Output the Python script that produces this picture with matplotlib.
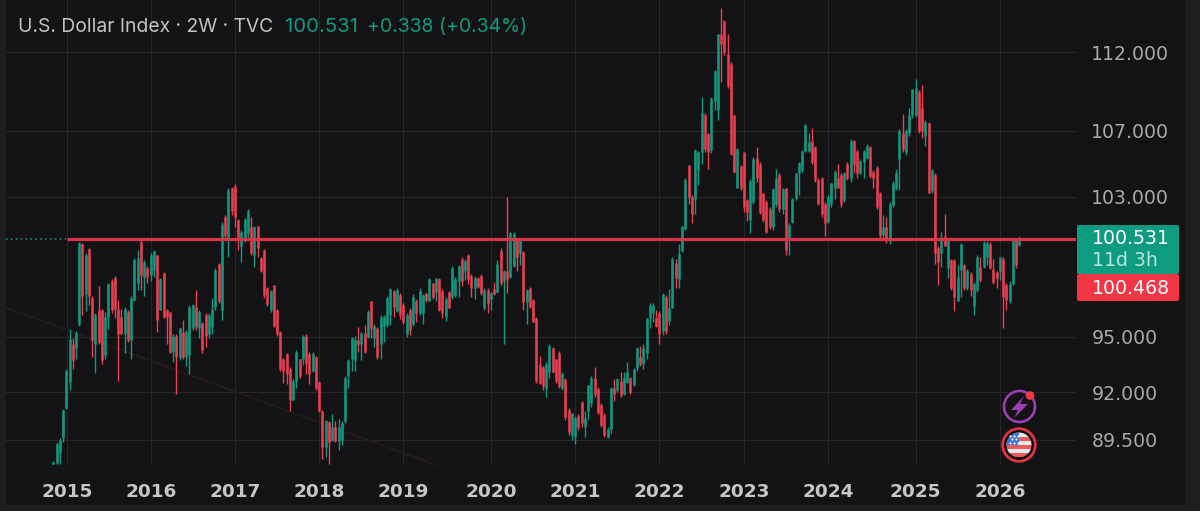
import numpy as np
import matplotlib
matplotlib.use('Agg')
import matplotlib.pyplot as plt
from matplotlib.patches import Circle, FancyBboxPatch, Polygon, Rectangle

plt.rcParams['font.family'] = ['Inter', 'DejaVu Sans']

# two week candles
opens = [
    88.25,88.3,88.8,89.6,91.15,92.55,94.6,94.35,95.7,100.25,
    97.35,99.95,97.15,94.6,96.45,96.45,94.0,96.1,98.1,98.3,
    96.55,96.1,95.15,96.35,94.8,97.05,98.0,100.35,98.35,98.85,
    98.45,98.75,99.6,96.45,98.55,96.45,96.35,94.15,95.05,93.9,
    95.25,93.9,94.0,95.45,96.65,95.45,95.75,96.2,95.15,95.55,
    96.65,99.05,96.45,101.8,100.65,103.5,103.65,101.6,100.1,100.55,
    100.85,101.2,99.6,101.25,99.4,99.9,97.7,96.45,97.85,96.45,
    95.25,93.8,94.05,93.25,91.6,92.6,93.75,93.75,95.05,94.05,
    93.15,93.9,92.55,91.0,89.1,90.4,89.45,90.15,89.45,89.5,
    90.45,92.85,93.8,93.7,94.8,94.6,95.2,95.0,96.95,94.95,
    95.45,94.6,95.6,95.65,96.2,97.55,96.4,
    97.3,96.75,95.15,96.5,95.7,97.0,96.3,96.3,97.4,97.0,
    98.0,97.5,98.2,97.55,96.1,97.5,97.2,97.3,98.1,99.35,
    98.7,99.6,98.4,97.7,98.3,98.4,96.6,97.6,97.1,97.65,
    97.5,99.85,98.1,98.65,98.35,98.95,100.45,99.7,99.75,96.9,
    97.7,97.05,96.05,93.45,93.35,92.2,93.05,94.4,93.75,94.1,
    92.2,92.7,91.05,89.75,89.65,90.75,91.45,90.15,91.0,91.4,
    92.75,92.15,91.3,90.8,89.65,90.05,92.2,92.1,92.6,91.9,
    92.55,92.75,92.4,93.3,93.9,93.5,94.1,96.0,96.3,96.05,
    96.3,95.3,97.2,95.85,96.6,99.15,98.2,99.85,
    101.1,104.9,103,102.9,104.6,105.7,108,106.8,105.8,108.9,
    108.3,113.15,114,111.9,111.25,108,103.55,104.85,105.7,102.8,
    101.6,102.7,105.35,105,103.2,102.7,102.3,101.2,102.6,104.3,
    102.3,103.5,100.45,101.5,102.95,104.45,104.6,105.75,105.75,106.35,
    106,104,104.1,102.6,101.5,102.6,103.5,104.1,104.3,102.8,
    105,104.1,106.4,105.75,104.4,105.1,105.35,106,104.5,104.75,
    103.2,100.75,101.2,100.4,102.5,103.5,105.25,106.9,105.7,106.9,
    108,108,109.45,108.4,106.7,107.5,103.35,104.3,100,99.7,
    100.7,98.85,99.3,99.3,97,98.75,99,97.7,98.5,96.7,
    97.6,98.9,98.9,99.5,100.25,98.8,98.6,98.7,99.35,97.85,
    97,97.95,100.5,100.19,
]
highs = [
    88.4,89.4,89.6,91.1,93.25,95.4,94.9,95.3,100.35,100.3,
    99.7,100.0,97.25,96.3,97.8,96.55,96.35,98.0,98.2,98.4,
    97.05,96.55,96.65,96.45,97.25,99.4,99.9,100.45,99.3,98.95,
    99.7,99.9,99.6,98.3,98.6,96.55,96.35,95.15,95.15,95.45,
    95.9,95.35,96.75,96.8,97.6,96.45,95.8,96.3,96.3,97.15,
    98.85,99.15,101.5,101.9,103.5,103.6,103.75,101.7,101.05,101.75,
    102.25,101.8,101.25,101.3,99.5,99.95,97.75,97.6,97.9,96.55,
    95.3,93.85,94.1,93.35,92.7,94.25,93.8,95.1,95.15,94.15,
    94.15,93.95,92.6,91.05,90.55,90.45,90.85,90.45,90.6,90.45,
    92.85,93.8,95.0,95.05,95.55,95.25,95.65,96.45,97.0,95.7,
    95.55,96.2,96.2,97.25,97.7,97.6,97.7,
    97.4,96.85,96.3,96.6,97.35,97.1,97.7,97.35,97.45,98.3,
    98.0,98.3,98.25,97.65,97.2,97.55,98.95,98.35,99.0,99.45,
    99.35,99.65,98.5,98.4,98.35,98.5,97.7,97.7,97.5,98.05,
    99.3,100.0,98.75,103.0,100.95,100.9,100.5,100.6,99.8,97.65,
    97.75,97.1,96.1,93.95,93.4,93.6,94.6,94.45,93.75,94.2,
    93.05,92.75,91.15,90.9,90.75,90.85,91.5,91.0,92.4,92.85,
    93.35,92.25,91.4,90.9,90.15,92.25,92.7,92.75,93.1,93.1,
    93.6,92.8,93.3,94.45,94.5,94.6,96.05,96.85,96.85,96.5,
    96.4,97.45,97.3,97.65,99.45,99.35,100.2,101.3,
    104.1,104.9,103.1,105.9,105.75,109.15,108.1,106.9,109.1,110.85,
    113.2,114.9,114.1,113.2,111.35,108,105.95,104.9,105.7,102.9,
    104.05,105.4,106,105.1,103.25,102.8,102.4,103.55,104.7,104.4,
    103.5,103.5,101.45,102.95,104.45,105.1,105.85,107.45,106.85,107.2,
    106.1,104.1,104.2,102.7,103.1,103.85,104.6,105,104.4,104.5,
    105.1,106.5,106.45,105.85,105.25,105.85,106.2,106.1,104.6,104.85,
    103.3,101.9,101.8,102.7,103.95,104.7,107.15,108.05,107.1,108.4,
    109.65,110.25,109.55,109.9,107.65,107.55,104.7,104.4,100.1,100.9,
    102,100.6,99.35,99.35,99,100.3,99.05,98.8,98.6,98.05,
    99.6,99.5,100.4,100.4,100.35,99.35,98.7,99.5,99.45,98,
    98.1,100.6,100.6,100.7,
]
lows = [
    88.25,88.25,88.25,89.4,91.1,92.1,93.25,93.8,95.6,96.2,
    96.4,96.75,93.9,93.0,94.6,93.5,93.8,95.4,96.3,96.0,
    92.6,95.15,94.1,94.7,93.8,96.95,97.6,97.6,97.25,98.0,
    98.1,98.35,95.25,96.45,96.0,94.6,94.1,93.6,91.9,93.7,
    93.8,93.4,92.95,95.35,95.35,94.95,94.1,94.45,94.95,95.15,
    96.45,96.85,95.9,100.55,99.45,101.9,101.2,99.9,99.2,100.35,
    100.65,99.6,98.9,99.5,98.6,97.15,96.7,96.35,95.55,95.05,
    93.15,92.5,92.45,91.0,91.6,92.2,92.75,93.45,92.95,92.45,
    93.05,92.1,90.95,88.5,88.6,88.25,89.5,89.4,88.95,89.25,
    90.35,92.2,93.15,93.15,94.15,93.7,94.1,94.95,94.95,94.45,
    93.8,93.8,94.7,95.55,95.65,96.1,96.35,
    95.95,95.7,95.0,95.1,95.6,95.8,96.2,95.7,96.9,97.0,
    97.1,97.0,96.4,96.0,95.85,96.6,97.1,97.2,97.2,97.8,
    98.15,97.95,97.2,97.1,97.7,97.3,96.5,96.3,96.5,97.3,
    97.4,97.9,94.6,97.4,98.3,98.9,98.7,99.0,96.5,95.7,
    96.6,95.8,92.5,92.45,92.1,91.75,92.75,93.0,92.5,92.2,
    92.1,90.5,89.75,89.5,89.3,90.0,90.15,89.65,90.6,91.2,
    91.75,90.85,90.15,89.65,89.6,89.85,91.5,92.0,91.75,91.85,
    92.5,91.9,92.35,93.15,93.4,93.25,93.8,95.5,95.8,95.55,
    94.6,95.1,95.15,95.65,96.6,97.7,97.7,99.75,
    101.05,102.6,101.45,102,103.7,105,105.7,104.65,105.65,108.3,
    107.7,110.1,111.8,109.7,105.5,104.4,103.5,103.4,102.1,101.55,
    100.85,102.6,103.9,102,101.5,100.85,101.1,101.05,102.4,102.1,
    102,99.6,99.6,101.45,102.8,103.1,104.5,105.7,105.7,105,
    103.9,102.5,101.8,100.7,101.45,102.4,102.9,103.5,102.4,102.7,
    104,103.9,104.45,104.15,104.35,104.15,105.3,104.15,103.5,102.3,
    100.6,100.6,100.3,100.2,102.4,103.4,103.4,105.7,105.55,106.7,
    107.8,107.85,106.85,106.55,106.1,103.2,103.2,99.05,97.85,98.9,
    100.1,98.3,97.6,96.4,96.95,97.2,97.6,97.6,97.25,96.2,
    97.5,98.05,98.85,99,98.8,97.95,97.7,98.15,95.5,96.5,
    96.85,97.85,98.85,100.1,
]
closes = [
    88.35,89.3,89.5,91.05,93.15,94.85,93.7,95.2,100.3,97.25,
    99.6,97.25,94.8,96.2,94.7,93.7,96.1,97.95,96.45,96.55,
    95.15,95.15,96.55,94.8,97.15,99.3,99.4,98.45,99.2,98.35,
    99.6,99.8,95.9,98.2,96.1,96.1,94.15,95.05,93.9,95.45,
    93.9,95.25,96.65,96.75,95.55,96.35,94.25,95.05,96.2,96.55,
    98.75,96.95,101.4,100.75,103.4,102.15,101.8,100.55,100.95,101.7,
    102.15,99.7,101.2,100.0,98.65,97.3,96.8,97.55,95.6,95.15,
    93.25,93.15,92.95,91.6,92.6,94.15,92.85,95.05,93.55,92.95,
    94.05,92.2,91.0,89.1,90.45,89.4,90.15,89.45,90.15,90.35,
    92.75,93.7,94.95,94.8,94.6,95.2,94.15,96.35,95.45,95.6,
    93.9,96.1,96.1,97.15,97.65,96.65,97.6,
    96.2,95.8,96.2,95.35,97.2,96.3,97.55,97.3,97.05,98.2,
    97.2,98.25,96.5,96.3,97.1,96.6,98.85,98.2,98.95,98.1,
    99.25,98.2,97.7,98.3,97.75,97.4,97.6,96.85,97.45,97.35,
    99.1,98.0,98.65,98.2,100.85,100.8,99.45,100.5,96.9,97.6,
    96.65,95.8,92.6,92.5,92.3,93.5,94.5,93.05,92.6,92.3,
    92.95,90.7,89.9,90.9,90.65,90.15,90.35,90.65,92.4,92.75,
    91.9,90.9,90.25,89.75,90.05,92.2,91.9,92.7,91.85,92.75,
    93.05,92.0,93.25,94.4,93.5,94.4,96.0,96.75,96.75,95.6,
    95.15,97.35,95.3,96.6,99.35,98.3,99.65,101.25,
    104,103,102,105.85,105.7,108.1,105.9,105.7,109,110.75,
    113.15,112.5,112,109.85,105.6,104.5,105.9,103.5,102.4,102.1,
    103.95,105.3,104.15,102.1,101.65,100.95,101.2,103.45,104.1,102.3,
    103.45,99.9,101.35,102.9,104.4,105.05,105.75,107.35,106.3,105.1,
    104,102.6,102,101.45,103,103.8,104.5,103.55,102.6,104.45,
    104.15,106.4,105,104.4,105.15,105.75,106.1,104.25,104.1,102.4,
    100.75,101.2,100.4,102.6,103.8,104.4,107,105.9,107,108,
    109.6,109.7,107,107,107.55,103.25,104.6,99.7,99.2,100.6,
    100.1,100.5,97.7,97.2,98.35,100.2,97.7,98.7,97.6,97.95,
    99.5,98.15,100.3,100.3,98.85,98.05,98.25,99.5,97.2,97.05,
    97.95,100.5,99,100.53,
]

year_pos = [4.2, 30.1, 56, 82, 107.9, 135, 161, 187, 213, 239, 266, 292]
year_labels = ['2015', '2016', '2017', '2018', '2019', '2020', '2021', '2022', '2023', '2024', '2025', '2026']
price_ticks = [89.5, 92, 95, 103, 107, 112]
price_labels = ['89.500', '92.000', '95.000', '103.000', '107.000', '112.000']

resistance = 100.5
resistance_start = 4.2
trend_x = [-14.6, 118]
trend_y = [96.6, 88.2]

BG = '#131214'
EDGE = '#1e1e20'
GRID = '#262628'
GREEN = '#129a80'
RED = '#ea4052'

W, H = 1200, 511
fig = plt.figure(figsize=(W / 100, H / 100), dpi=100, facecolor=EDGE)

# axes box in pixels: 6..1076 across, 0..465 down
ax = fig.add_axes([6 / W, 1 - 465 / H, 1070 / W, 465 / H], facecolor=BG)
fig.patches.append(Rectangle((6 / W, 6 / H), 1179 / W, 1 - 6 / H, transform=fig.transFigure,
                             facecolor=BG, edgecolor='none', zorder=-5))

ax.set_yscale('log')
ax.set_xlim(-14.6, 315.5)
ax.set_ylim(88.2, 115.42)

x = np.arange(len(closes))
o = np.array(opens)
h = np.array(highs)
l = np.array(lows)
c = np.array(closes)
up = c >= o

ax.plot(trend_x, trend_y, color='#241a1b', lw=1.3, zorder=1)

for mask, col in ((up, GREEN), (~up, RED)):
    ax.vlines(x[mask], l[mask], h[mask], color=col, lw=1.0, zorder=3)
    ax.vlines(x[mask], np.minimum(o, c)[mask], np.maximum(o, c)[mask], color=col, lw=1.8, zorder=3)

ax.hlines(resistance, resistance_start, 315.5, color='#d8354a', lw=2.3, zorder=4)
ax.hlines(resistance, -14.6, resistance_start, color=GREEN, lw=1.1, linestyles=(0, (1, 2.2)), zorder=2)

ax.set_xticks(year_pos)
ax.set_xticklabels(year_labels, fontsize=13.3, fontweight='bold', color='#c6c6c6', family='DejaVu Sans')
ax.set_yticks(price_ticks)
ax.set_yticklabels(price_labels, fontsize=13.6, color='#a9a9a9', family='DejaVu Sans')
ax.minorticks_off()
ax.yaxis.tick_right()
ax.tick_params(axis='both', length=0)
ax.tick_params(axis='x', pad=13)
ax.tick_params(axis='y', pad=11)
ax.grid(True, color=GRID, lw=0.8, zorder=0)
ax.set_axisbelow(True)
for s in ax.spines.values():
    s.set_visible(False)

# overlay in pixel coordinates for header, price tags and icons
ov = fig.add_axes([0, 0, 1, 1], facecolor='none')
ov.set_xlim(0, W)
ov.set_ylim(H, 0)
ov.axis('off')

ov.text(18, 27, 'U.S. Dollar Index · 2W · TVC', color='#c4c4c4', fontsize=13.9, va='center')
ov.text(285, 27, '100.531', color=GREEN, fontsize=14.6, va='center')
ov.text(367, 27, '+0.338 (+0.34%)', color=GREEN, fontsize=14, va='center')

ov.add_patch(FancyBboxPatch((1078, 226), 100, 47, boxstyle='round,pad=1,rounding_size=2', fc='#0f9b7f', ec='none'))
ov.add_patch(FancyBboxPatch((1078, 275), 100, 25, boxstyle='round,pad=1,rounding_size=2', fc='#f23645', ec='none'))
ov.text(1092, 239, '100.531', color='white', fontsize=13.6, va='center', family='DejaVu Sans')
ov.text(1092, 261, '11d 3h', color='#b7e6db', fontsize=13.6, va='center', family='DejaVu Sans')
ov.text(1092, 288, '100.468', color='white', fontsize=13.6, va='center', family='DejaVu Sans')

# alert icon
ov.add_patch(Circle((1019.5, 406.5), 15.5, fc=BG, ec='#9a3fb3', lw=1.9))
ov.add_patch(Polygon([(1024, 396), (1011, 410), (1018, 410), (1014, 418), (1028, 404), (1020, 404)],
                     fc='#9a3fb3', ec='none'))
ov.add_patch(Circle((1030, 395.5), 4.3, fc='#f23645', ec='none'))

# flag icon
ov.add_patch(Circle((1019, 445), 16.3, fc='#0c0c0c', ec='#e0343f', lw=2))
flag = Circle((1019, 445), 12.5, transform=ov.transData)
for i, col in enumerate(['#e8e8e8', '#f0575c', '#e8e8e8', '#f0575c', '#e8e8e8', '#f0575c']):
    r = Rectangle((1006, 432.5 + i * 25 / 6), 26, 25 / 6, fc=col, ec='none')
    ov.add_patch(r)
    r.set_clip_path(flag)
canton = Rectangle((1006, 432.5), 13, 12.5, fc='#3a78d8', ec='none')
ov.add_patch(canton)
canton.set_clip_path(flag)
ov.scatter([1010, 1014, 1018, 1010, 1014, 1018, 1012, 1016], [436, 436, 436, 443, 443, 443, 439.5, 439.5],
           s=2.2, color='white', linewidths=0)

fig.savefig('out.png', dpi=100, facecolor=fig.get_facecolor())
